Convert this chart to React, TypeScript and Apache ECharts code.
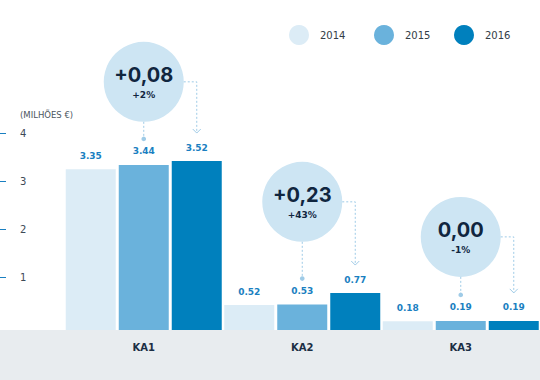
import React, { useEffect, useRef } from "react";
import * as echarts from "echarts";

const categories = ["KA1", "KA2", "KA3"];
const years = ["2014", "2015", "2016"];
const values2014 = [3.35, 0.52, 0.18];
const values2015 = [3.44, 0.53, 0.19];
const values2016 = [3.52, 0.77, 0.19];
const changeAbs = ["+0,08", "+0,23", "0,00"];
const changePct = ["+2%", "+43%", "-1%"];
const bubbleLevel = [5.17, 2.67, 1.94];
const yTicks = [1, 2, 3, 4];

const colors = ["#dcecf6", "#6ab2dc", "#0080bd"];
const BAR_W = 50;
const BAR_GAP = 3;

export default function App() {
  const ref = useRef<HTMLDivElement>(null);
  useEffect(() => {
    if (!ref.current) return;
    const chart = echarts.init(ref.current, undefined, { renderer: "svg" });
    const seriesValues = [values2014, values2015, values2016];
    const legendLefts = [289, 374, 454];
    const dotted = { stroke: "#9fcbe7", lineWidth: 1, lineDash: [2, 2], fill: "none" };

    const option: any = {
      animation: false,
      backgroundColor: "#ffffff",
      textStyle: { fontFamily: "DejaVu Sans" },
      grid: { left: 64.5, width: 477, top: 30, height: 300 },
      legend: years.map((y, i) => ({
        data: [y],
        left: legendLefts[i],
        top: 25,
        padding: 0,
        icon: "circle",
        itemWidth: 20,
        itemHeight: 20,
        selectedMode: false,
        textStyle: { fontSize: 10, color: "#333d47", fontFamily: "DejaVu Sans", padding: [0, 0, 0, 6] },
      })),
      xAxis: {
        type: "category",
        data: categories,
        axisLine: { show: false },
        axisTick: { show: false },
        axisLabel: { margin: 12, fontSize: 10, fontWeight: "bold", color: "#1b2e44", fontFamily: "DejaVu Sans" },
      },
      yAxis: [
        { type: "value", min: 0, max: 6.25, show: false },
        {
          type: "value",
          min: -0.1,
          max: 6.15,
          position: "left",
          offset: 64.5,
          splitLine: { show: false },
          axisLine: { show: false },
          axisTick: { show: true, inside: true, length: 6, lineStyle: { color: "#1a7fc1", width: 1 }, customValues: yTicks },
          axisLabel: { inside: true, margin: 20, fontSize: 10, color: "#3d4a57", customValues: yTicks },
        },
      ],
      graphic: [
        { type: "rect", z: -10, shape: { x: 0, y: 330, width: 540, height: 50 }, style: { fill: "#e8ecef" } },
        {
          type: "text",
          left: 20,
          top: 110,
          style: { text: "(MILHÕES €)", font: "8.5px DejaVu Sans", fill: "#4a5560" },
        },
      ],
      series: [
        ...years.map((y, i) => ({
          name: y,
          type: "bar",
          yAxisIndex: 0,
          data: seriesValues[i],
          barWidth: BAR_W,
          barGap: (BAR_GAP / BAR_W) * 100 + "%",
          itemStyle: { color: colors[i] },
          label: {
            show: true,
            position: "top",
            distance: 9,
            fontSize: 9,
            fontWeight: "bold",
            color: "#1a7fc1",
            fontFamily: "DejaVu Sans",
            formatter: (p: any) => p.value.toFixed(2),
          },
        })),
        {
          name: "annotations",
          type: "custom",
          yAxisIndex: 0,
          silent: true,
          z: 5,
          encode: { x: 0, y: 1 },
          data: categories.map((c, i) => [i, bubbleLevel[i], values2015[i], values2016[i]]),
          renderItem: (params: any, api: any) => {
            const i = api.value(0);
            const [cx, cy] = api.coord([i, api.value(1)]);
            const top15 = api.coord([i, api.value(2)])[1];
            const top16 = api.coord([i, api.value(3)])[1];
            const x16 = cx + BAR_W + BAR_GAP;
            const r = 40;
            const dotY = top15 - 26;
            const tipY = top16 - 28;
            return {
              type: "group",
              children: [
                { type: "circle", shape: { cx, cy, r }, style: { fill: "#cde5f3" } },
                { type: "line", shape: { x1: cx, y1: cy + r, x2: cx, y2: dotY }, style: dotted },
                { type: "circle", shape: { cx, cy: dotY, r: 2.3 }, style: { fill: "#9fcbe7" } },
                { type: "polyline", shape: { points: [[cx + r, cy], [x16, cy], [x16, tipY]] }, style: dotted },
                {
                  type: "polyline",
                  shape: { points: [[x16 - 4, tipY - 4], [x16, tipY], [x16 + 4, tipY - 4]] },
                  style: { stroke: "#9fcbe7", lineWidth: 1, fill: "none" },
                },
                {
                  type: "text",
                  style: {
                    text: changeAbs[i],
                    x: cx,
                    y: cy - 7,
                    font: "bold 20px Inter",
                    fill: "#10263f",
                    align: "center",
                    verticalAlign: "middle",
                    textAlign: "center",
                    textVerticalAlign: "middle",
                  },
                },
                {
                  type: "text",
                  style: {
                    text: changePct[i],
                    x: cx,
                    y: cy + 13,
                    font: "bold 9px DejaVu Sans",
                    fill: "#10263f",
                    align: "center",
                    verticalAlign: "middle",
                    textAlign: "center",
                    textVerticalAlign: "middle",
                  },
                },
              ],
            };
          },
        },
      ],
    };
    chart.setOption(option);
    return () => chart.dispose();
  }, []);
  return <div ref={ref} style={{ position: "absolute", left: 0, top: 0, width: 540, height: 380 }} />;
}
